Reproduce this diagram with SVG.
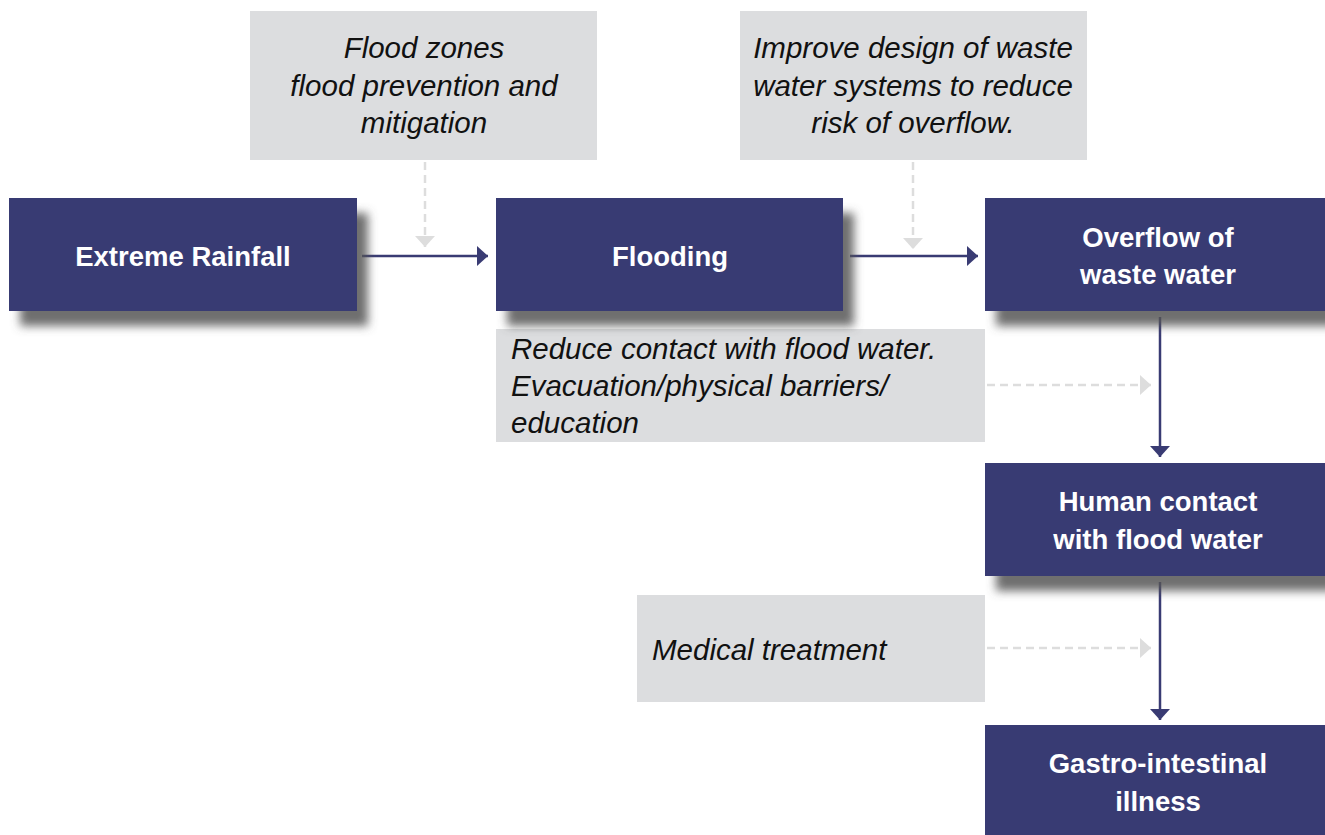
<svg xmlns="http://www.w3.org/2000/svg" width="1325" height="835" viewBox="0 0 1325 835">
<style>
.node{fill:#393B73;filter:url(#sh)}
.note{fill:#DCDDDF}
.nt{font-family:"Liberation Sans",Arial,sans-serif;font-weight:bold;font-size:27.5px;fill:#ffffff;text-anchor:middle}
.it{font-family:"Liberation Sans",Arial,sans-serif;font-style:italic;font-size:29.5px;fill:#111111}
.c{stroke:#393B73;stroke-width:2.5;fill:none}
.d{stroke:#DDDDDD;stroke-width:2.5;fill:none;stroke-dasharray:8 5}
</style>
<defs>
<filter id="sh" x="-10%" y="-20%" width="130%" height="170%">
<feDropShadow dx="11" dy="15" stdDeviation="5" flood-color="#555555" flood-opacity="0.85"/>
</filter>
<marker id="a" viewBox="0 0 11 20" refX="11" refY="10" markerWidth="11" markerHeight="20" markerUnits="userSpaceOnUse" orient="auto">
<path d="M0,0 L11,10 L0,20 z" fill="#393B73"/>
</marker>
<marker id="g" viewBox="0 0 11 20" refX="11" refY="10" markerWidth="11" markerHeight="20" markerUnits="userSpaceOnUse" orient="auto">
<path d="M0,0 L11,10 L0,20 z" fill="#DDDDDD"/>
</marker>
</defs>
<rect width="1325" height="835" fill="#ffffff"/>
<g id="note-flood-zones"><rect class="note" x="250" y="11" width="347" height="149"/>
<text class="it" text-anchor="middle" x="424"><tspan x="424" y="58">Flood zones</tspan><tspan x="424" y="96">flood prevention and</tspan><tspan x="424" y="133">mitigation</tspan></text></g>
<g id="note-improve-design"><rect class="note" x="740" y="11" width="347" height="149"/>
<text class="it" text-anchor="middle" x="913"><tspan x="913" y="58">Improve design of waste</tspan><tspan x="913" y="96">water systems to reduce</tspan><tspan x="913" y="133">risk of overflow.</tspan></text></g>
<g id="note-reduce-contact"><rect class="note" x="496" y="329" width="489" height="113"/>
<text class="it" x="511"><tspan x="511" y="359">Reduce contact with flood water.</tspan><tspan x="511" y="396">Evacuation/physical barriers/</tspan><tspan x="511" y="433">education</tspan></text></g>
<g id="note-medical"><rect class="note" x="637" y="595" width="348" height="107"/>
<text class="it" x="652" y="660">Medical treatment</text></g>
<g id="connectors">
<line class="d" x1="425" y1="162" x2="425" y2="247" marker-end="url(#g)"/>
<line class="d" x1="913" y1="162" x2="913" y2="249" marker-end="url(#g)"/>
<line class="d" x1="987" y1="385" x2="1151" y2="385" marker-end="url(#g)"/>
<line class="d" x1="987" y1="648" x2="1151" y2="648" marker-end="url(#g)"/>
<line class="c" x1="362" y1="256" x2="488" y2="256" marker-end="url(#a)"/>
<line class="c" x1="850" y1="256" x2="978" y2="256" marker-end="url(#a)"/>
<line class="c" x1="1160" y1="317" x2="1160" y2="457" marker-end="url(#a)"/>
<line class="c" x1="1160" y1="582" x2="1160" y2="720" marker-end="url(#a)"/>
</g>
<g id="node-extreme-rainfall"><rect class="node" x="9" y="198" width="348" height="113"/>
<text class="nt" x="183" y="266">Extreme Rainfall</text></g>
<g id="node-flooding"><rect class="node" x="496" y="198" width="347" height="113"/>
<text class="nt" x="670" y="266">Flooding</text></g>
<g id="node-overflow"><rect class="node" x="985" y="198" width="345" height="113"/>
<text class="nt" x="1158"><tspan x="1158" y="247">Overflow of</tspan><tspan x="1158" y="284">waste water</tspan></text></g>
<g id="node-human-contact"><rect class="node" x="985" y="463" width="345" height="113"/>
<text class="nt" x="1158"><tspan x="1158" y="511">Human contact</tspan><tspan x="1158" y="549">with flood water</tspan></text></g>
<g id="node-gastro"><rect class="node" x="985" y="725" width="345" height="115"/>
<text class="nt" x="1158"><tspan x="1158" y="773">Gastro-intestinal</tspan><tspan x="1158" y="811">illness</tspan></text></g>
</svg>
